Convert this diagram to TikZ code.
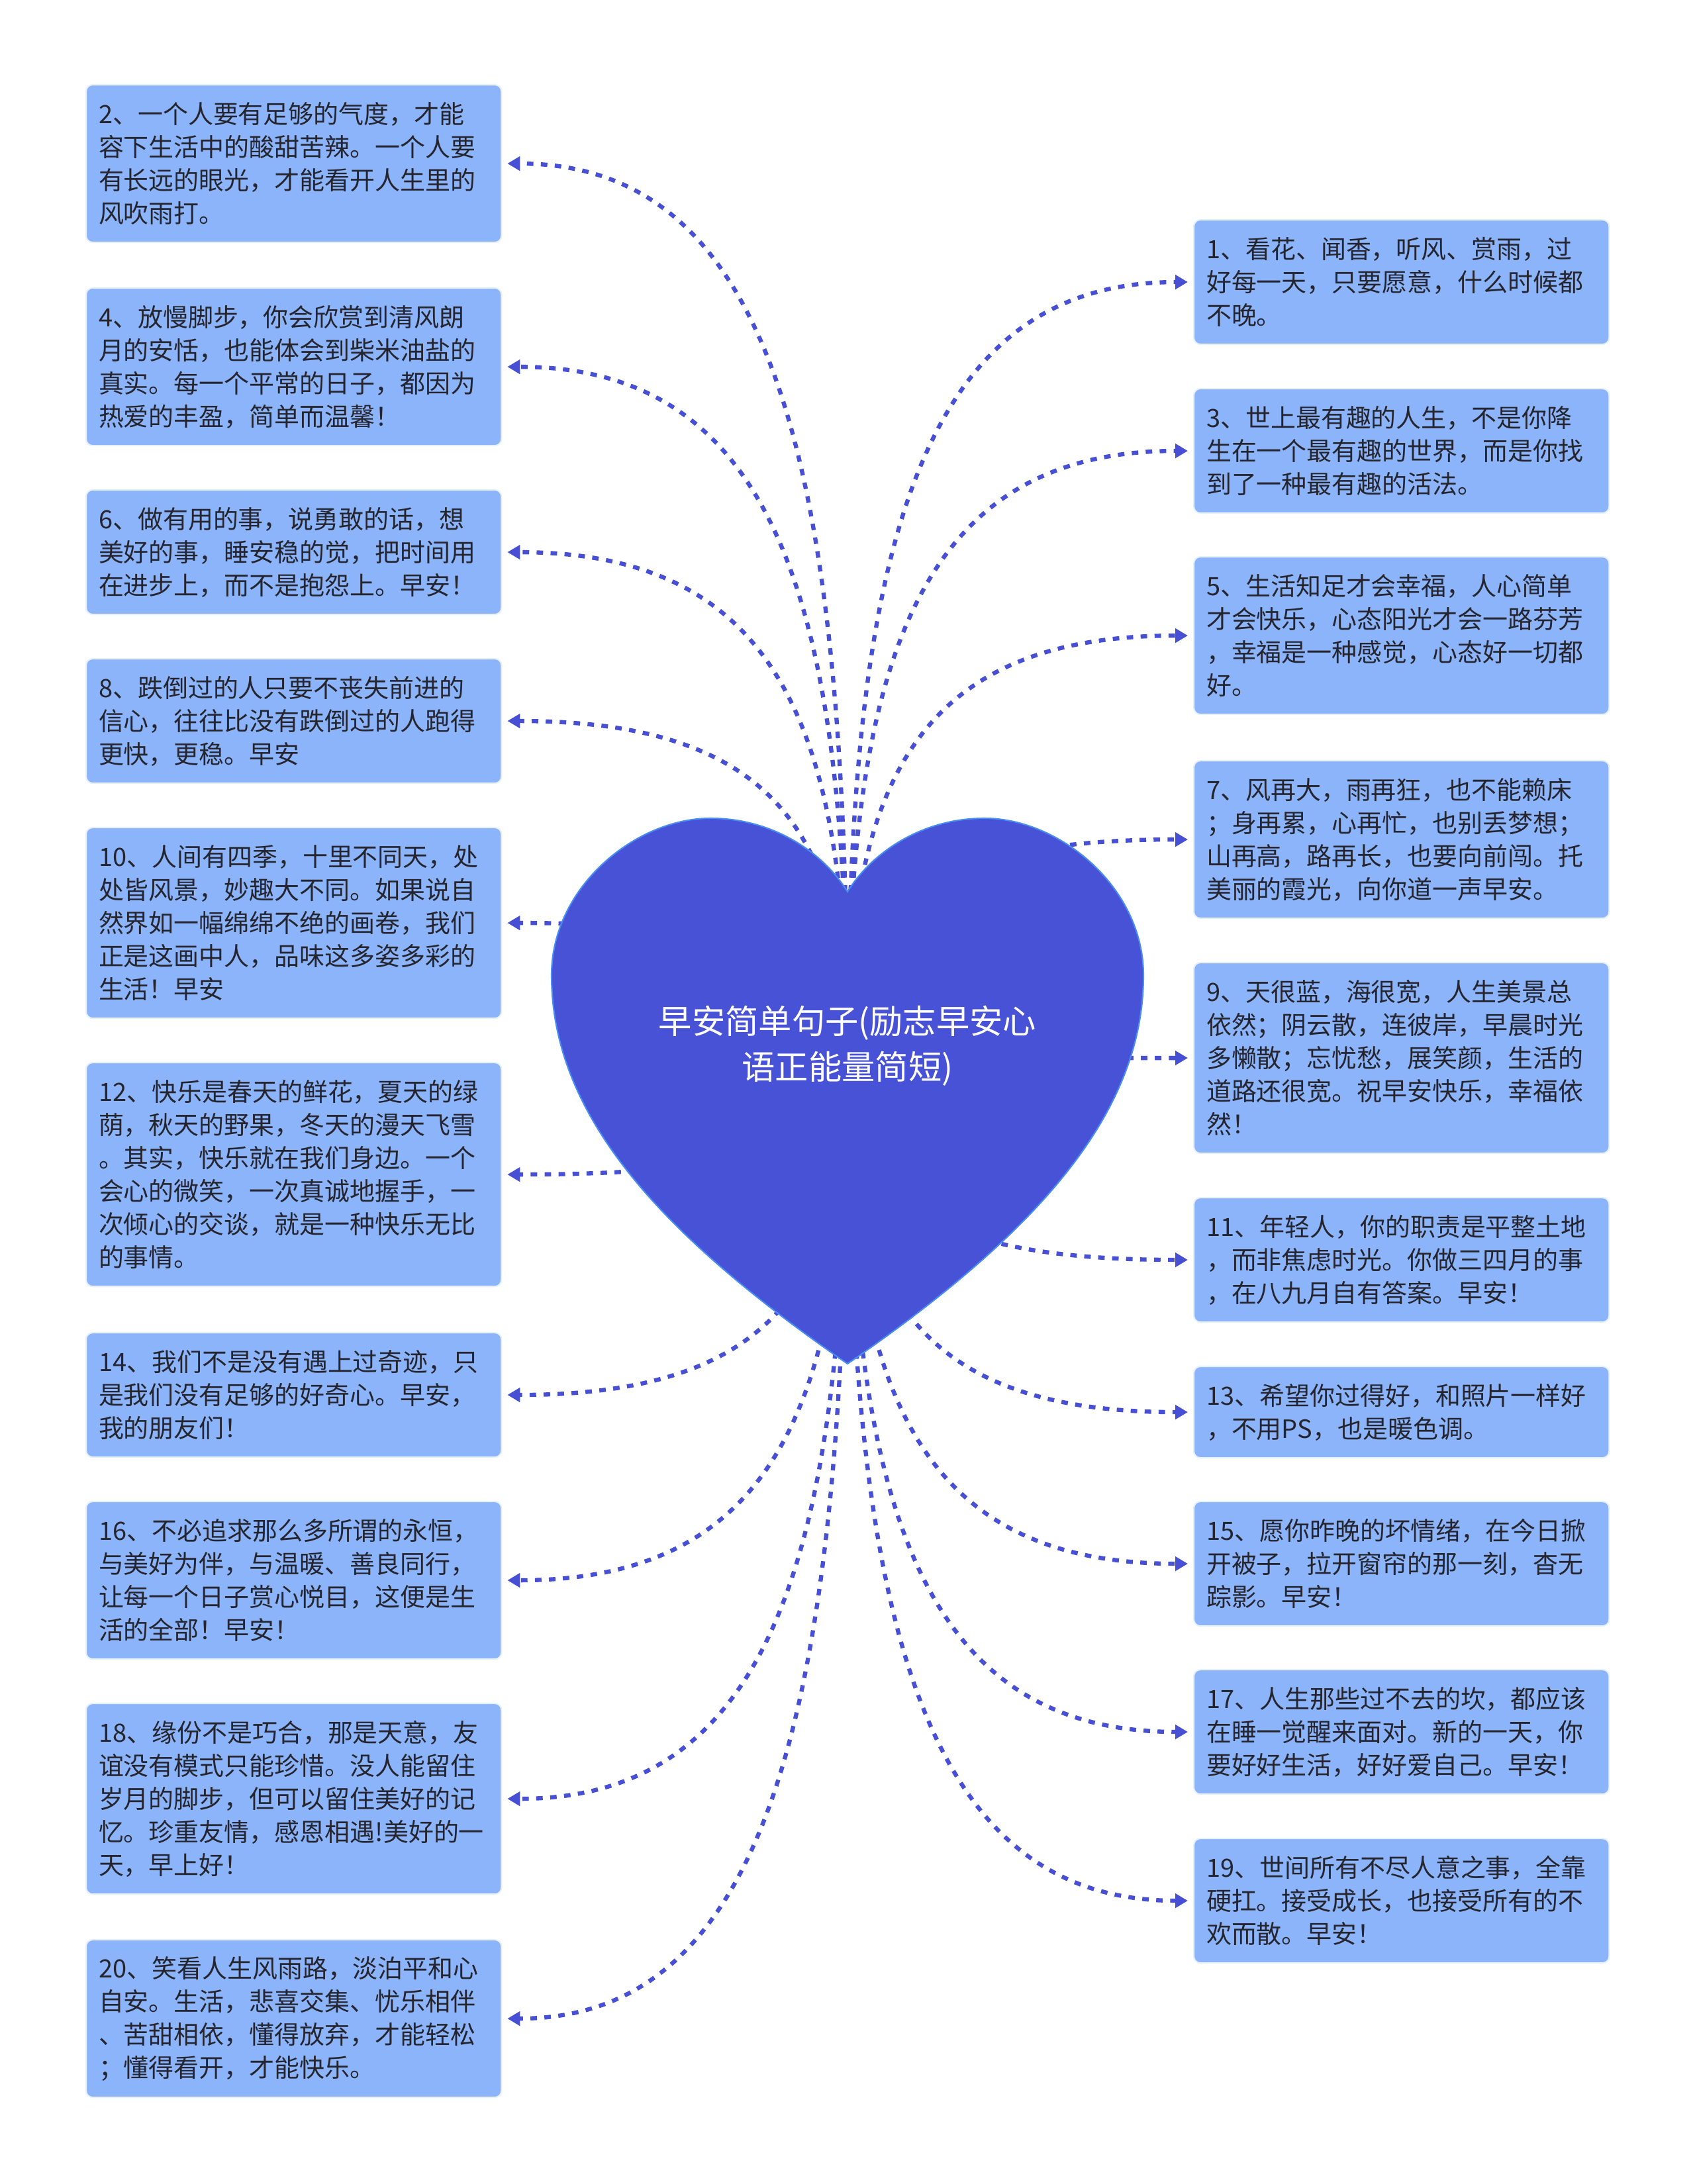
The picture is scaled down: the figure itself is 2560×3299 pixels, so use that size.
\documentclass[tikz,border=0pt]{standalone}
\usepackage{fontspec}
\setmainfont{Noto Sans CJK SC}
\usetikzlibrary{calc,arrows.meta}
\definecolor{heartfill}{HTML}{4752D6}
\definecolor{heartedge}{HTML}{4A8CF0}
\definecolor{boxfill}{HTML}{8CB4FA}
\definecolor{boxedge}{HTML}{E6F0FF}
\definecolor{textcol}{HTML}{25252F}
\definecolor{conncol}{HTML}{4750D4}
\newcommand\boxfont{\fontsize{10.8pt}{14.23pt}\selectfont}
\newcommand\titlefont{\fontsize{14.3pt}{19.6pt}\selectfont}
\newcommand\lconn[1]{\draw[conn] (hc) .. controls ($(hc)!0.65!(hc|-#1.east)$) and ($(#1.east)!0.8!(hc|-#1.east)$) .. (#1.east);}
\newcommand\rconn[1]{\draw[conn] (hc) .. controls ($(hc)!0.65!(hc|-#1.west)$) and ($(#1.west)!0.8!(hc|-#1.west)$) .. (#1.west);}
\begin{document}
\begin{tikzpicture}[x=0.01cm,y=-0.01cm,
  txtbox/.style={draw=boxedge, line width=0.6pt, fill=boxfill, rounded corners=0.1cm,
    anchor=north west, minimum width=6.27cm, text width=5.89cm, inner xsep=0.19cm,
    inner ysep=0pt, align=left, font=\boxfont, text=textcol, outer sep=0pt},
  h2/.style={minimum height=1.38cm},
  h3/.style={minimum height=1.88cm},
  h4/.style={minimum height=2.38cm},
  h5/.style={minimum height=2.88cm},
  h6/.style={minimum height=3.38cm},
  conn/.style={draw=conncol, line width=1.8pt, dash pattern=on 2.8pt off 3.2pt,
    -{Triangle[length=0.19cm,width=0.21cm]}, shorten >=0.09cm},
  heartshape/.style={fill=heartfill, draw=heartedge, line width=0.6pt},
  titletext/.style={font=\titlefont, text=white, align=center}
]
\useasboundingbox (0,0) rectangle (2560,3299);
\fill[white] (0,0) rectangle (2560,3299);

\coordinate (hc) at (1280,1600);

% left boxes
\node[txtbox,h4] (b2) at (130,128) {2、一个人要有足够的气度，才能\\容下生活中的酸甜苦辣。一个人要\\有长远的眼光，才能看开人生里的\\风吹雨打。};
\node[txtbox,h4] (b4) at (130,435) {4、放慢脚步，你会欣赏到清风朗\\月的安恬，也能体会到柴米油盐的\\真实。每一个平常的日子，都因为\\热爱的丰盈，简单而温馨！};
\node[txtbox,h3] (b6) at (130,740) {6、做有用的事，说勇敢的话，想\\美好的事，睡安稳的觉，把时间用\\在进步上，而不是抱怨上。早安！};
\node[txtbox,h3] (b8) at (130,995) {8、跌倒过的人只要不丧失前进的\\信心，往往比没有跌倒过的人跑得\\更快，更稳。早安};
\node[txtbox,h5] (b10) at (130,1250) {10、人间有四季，十里不同天，处\\处皆风景，妙趣大不同。如果说自\\然界如一幅绵绵不绝的画卷，我们\\正是这画中人，品味这多姿多彩的\\生活！早安};
\node[txtbox,h6] (b12) at (130,1605) {12、快乐是春天的鲜花，夏天的绿\\荫，秋天的野果，冬天的漫天飞雪\\。其实，快乐就在我们身边。一个\\会心的微笑，一次真诚地握手，一\\次倾心的交谈，就是一种快乐无比\\的事情。};
\node[txtbox,h3] (b14) at (130,2013) {14、我们不是没有遇上过奇迹，只\\是我们没有足够的好奇心。早安，\\我的朋友们！};
\node[txtbox,h4] (b16) at (130,2268) {16、不必追求那么多所谓的永恒，\\与美好为伴，与温暖、善良同行，\\让每一个日子赏心悦目，这便是生\\活的全部！早安！};
\node[txtbox,h5] (b18) at (130,2573) {18、缘份不是巧合，那是天意，友\\谊没有模式只能珍惜。没人能留住\\岁月的脚步，但可以留住美好的记\\忆。珍重友情，感恩相遇!美好的一\\天，早上好！};
\node[txtbox,h4] (b20) at (130,2930) {20、笑看人生风雨路，淡泊平和心\\自安。生活，悲喜交集、忧乐相伴\\、苦甜相依，懂得放弃，才能轻松\\；懂得看开，才能快乐。};

% right boxes
\node[txtbox,h3] (b1) at (1803,332) {1、看花、闻香，听风、赏雨，过\\好每一天，只要愿意，什么时候都\\不晚。};
\node[txtbox,h3] (b3) at (1803,587) {3、世上最有趣的人生，不是你降\\生在一个最有趣的世界，而是你找\\到了一种最有趣的活法。};
\node[txtbox,h4] (b5) at (1803,841) {5、生活知足才会幸福，人心简单\\才会快乐，心态阳光才会一路芬芳\\，幸福是一种感觉，心态好一切都\\好。};
\node[txtbox,h4] (b7) at (1803,1149) {7、风再大，雨再狂，也不能赖床\\；身再累，心再忙，也别丢梦想；\\山再高，路再长，也要向前闯。托\\美丽的霞光，向你道一声早安。};
\node[txtbox,h5] (b9) at (1803,1454) {9、天很蓝，海很宽，人生美景总\\依然；阴云散，连彼岸，早晨时光\\多懒散；忘忧愁，展笑颜，生活的\\道路还很宽。祝早安快乐，幸福依\\然！};
\node[txtbox,h3] (b11) at (1803,1809) {11、年轻人，你的职责是平整土地\\，而非焦虑时光。你做三四月的事\\，在八九月自有答案。早安！};
\node[txtbox,h2] (b13) at (1803,2064) {13、希望你过得好，和照片一样好\\，不用PS，也是暖色调。};
\node[txtbox,h3] (b15) at (1803,2268) {15、愿你昨晚的坏情绪，在今日掀\\开被子，拉开窗帘的那一刻，杳无\\踪影。早安！};
\node[txtbox,h3] (b17) at (1803,2522) {17、人生那些过不去的坎，都应该\\在睡一觉醒来面对。新的一天，你\\要好好生活，好好爱自己。早安！};
\node[txtbox,h3] (b19) at (1803,2777) {19、世间所有不尽人意之事，全靠\\硬扛。接受成长，也接受所有的不\\欢而散。早安！};

% connectors
\lconn{b2}\lconn{b4}\lconn{b6}\lconn{b8}\lconn{b10}
\lconn{b12}\lconn{b14}\lconn{b16}\lconn{b18}\lconn{b20}
\rconn{b1}\rconn{b3}\rconn{b5}\rconn{b7}\rconn{b9}
\rconn{b11}\rconn{b13}\rconn{b15}\rconn{b17}\rconn{b19}

% heart
\path[heartshape] (1280,1347)
  .. controls (1245,1290) and (1170,1236) .. (1073,1236)
  .. controls (960,1236) and (833,1340) .. (833,1473)
  .. controls (833,1680) and (990,1860) .. (1280,2060)
  .. controls (1570,1860) and (1727,1680) .. (1727,1473)
  .. controls (1727,1340) and (1600,1236) .. (1487,1236)
  .. controls (1390,1236) and (1315,1290) .. (1280,1347) -- cycle;

\node[titletext] (title) at (1280,1580) {早安简单句子(励志早安心\\语正能量简短)};
\end{tikzpicture}
\end{document}
